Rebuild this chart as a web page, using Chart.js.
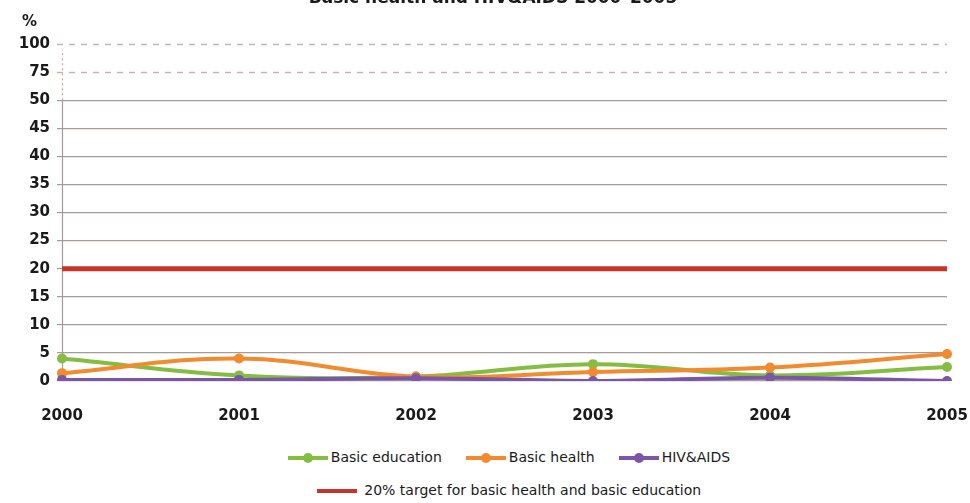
<!DOCTYPE html>
<html>
<head>
<meta charset="utf-8">
<script src="https://cdn.jsdelivr.net/npm/chart.js@4.4.1/dist/chart.umd.min.js"></script>
<style>
  body { margin: 0; background: #fff; font-family: "DejaVu Sans", sans-serif; }
  #wrap { position: relative; width: 970px; height: 503px; overflow: hidden; }
  #chartBox { position: absolute; left: 0; top: 0; width: 970px; height: 420px; }
  #title { position: absolute; top: -13px; left: 0; width: 986px; text-align: center;
           font-weight: bold; font-size: 17px; color: #1a1a1a; }
  #pct { position: absolute; left: 22px; top: 12px; font-weight: bold; font-size: 15px; color: #1a1a1a; }
  #legend { position: absolute; left: 0; top: 440px; width: 970px; box-sizing: border-box;
            padding-left: 48px; text-align: center; font-size: 14px; color: #1a1a1a; }
  .row { height: 33px; line-height: 33px; white-space: nowrap; }
  .item { display: inline-block; margin: 0 12px; vertical-align: middle; }
  .mark { display: inline-block; position: relative; width: 40px; height: 10px; vertical-align: middle; margin-right: 3px; }
  .mark .ln { position: absolute; left: 0; right: 0; top: 3px; height: 4px; }
  .mark .pt { position: absolute; left: 15px; top: 0; width: 10px; height: 10px; border-radius: 50%; }
</style>
</head>
<body>
<div id="wrap">
  <div id="chartBox"><canvas id="devChart"></canvas></div>
  <div id="title">Basic health and HIV&amp;AIDS 2000–2005</div>
  <div id="pct">%</div>
  <div id="legend"></div>
</div>
<script>
const years = ["2000", "2001", "2002", "2003", "2004", "2005"];
// y axis is broken above 50: 0..50 step 5, then 75, 100 at equal spacing
const yLabels = [0, 5, 10, 15, 20, 25, 30, 35, 40, 45, 50, 75, 100];

const basicEducation = [4.0, 1.0, 0.8, 3.0, 1.0, 2.5];
const basicHealth = [1.4, 4.0, 0.8, 1.6, 2.4, 4.8];
const hivAids = [0.2, 0.2, 0.5, 0.0, 0.6, 0.0];
const target = [20, 20, 20, 20, 20, 20];

// value -> position on the evenly spaced broken axis
function toPos(v) {
  if (v <= 50) return v / 5;
  if (v <= 75) return 10 + (v - 50) / 25;
  return 11 + (v - 75) / 25;
}

const gridGrey = "#a59c99";

const brokenAxis = {
  id: "brokenAxis",
  beforeDatasetsDraw(chart) {
    const ctx = chart.ctx;
    const y = chart.scales.y;
    const area = chart.chartArea;
    ctx.save();
    // dashed lines for the compressed part
    ctx.strokeStyle = "#c4b0ad";
    ctx.lineWidth = 1.4;
    ctx.setLineDash([6, 6]);
    [11, 12].forEach((i) => {
      const py = Math.round(y.getPixelForValue(i)) + 0.5;
      ctx.beginPath();
      ctx.moveTo(area.left - 5, py);
      ctx.lineTo(area.right, py);
      ctx.stroke();
    });
    // axis line: solid up to 50, dotted above
    const x = Math.round(area.left) + 0.5;
    ctx.setLineDash([]);
    ctx.strokeStyle = gridGrey;
    ctx.lineWidth = 1.2;
    ctx.beginPath();
    ctx.moveTo(x, y.getPixelForValue(0));
    ctx.lineTo(x, y.getPixelForValue(10));
    ctx.stroke();
    ctx.strokeStyle = "#cf9f9a";
    ctx.setLineDash([2, 3]);
    ctx.beginPath();
    ctx.moveTo(x, y.getPixelForValue(10));
    ctx.lineTo(x, y.getPixelForValue(12) + 6);
    ctx.stroke();
    ctx.restore();
  },
};

const seriesList = [
  { label: "Basic education", values: basicEducation, color: "#84bd41", order: 3 },
  { label: "Basic health", values: basicHealth, color: "#f28b2e", order: 2 },
  { label: "HIV&AIDS", values: hivAids, color: "#7b55a6", order: 1 },
];

const datasets = seriesList.map((s) => ({
  label: s.label,
  data: s.values.map(toPos),
  borderColor: s.color,
  backgroundColor: s.color,
  borderWidth: 4,
  pointRadius: 5,
  pointBorderWidth: 0,
  tension: 0.4,
  order: s.order,
}));

datasets.push({
  label: "20% target for basic health and basic education",
  data: target.map(toPos),
  borderColor: "#c6352b",
  backgroundColor: "#c6352b",
  borderWidth: 5,
  pointRadius: 0,
  order: 4,
});

const chart = new Chart(document.getElementById("devChart"), {
  type: "line",
  data: { labels: years, datasets: datasets },
  options: {
    responsive: true,
    maintainAspectRatio: false,
    animation: false,
    layout: { padding: { top: 44, right: 23, left: 0, bottom: 0 } },
    scales: {
      x: {
        offset: false,
        grid: { display: false },
        border: { display: false },
        ticks: {
          color: "#1a1a1a",
          font: { family: "DejaVu Sans", size: 15, weight: "bold" },
          padding: 18,
          maxRotation: 0,
        },
        afterFit(s) {
          s.height = 39;
          s.paddingLeft = 0;
          s.paddingRight = 0;
        },
      },
      y: {
        min: 0,
        max: 12,
        border: { display: false },
        grid: {
          color: (c) => (c.index >= 11 ? "rgba(0,0,0,0)" : gridGrey),
          lineWidth: 1.2,
          tickLength: 5,
        },
        ticks: {
          stepSize: 1,
          color: "#1a1a1a",
          font: { family: "DejaVu Sans", size: 15, weight: "bold" },
          padding: 7,
          callback: (v) => yLabels[v],
        },
        afterFit(s) {
          s.width = 62;
          s.paddingTop = 0;
          s.paddingBottom = 0;
        },
      },
    },
    plugins: {
      legend: { display: false },
      tooltip: { enabled: false },
    },
  },
  plugins: [brokenAxis],
});

// legend in two rows like the original
const legend = document.getElementById("legend");
const row1 = document.createElement("div");
row1.className = "row";
seriesList.forEach((s) => {
  const item = document.createElement("span");
  item.className = "item";
  item.innerHTML = '<span class="mark"><span class="ln" style="background:' + s.color +
    '"></span><span class="pt" style="background:' + s.color + '"></span></span>';
  item.appendChild(document.createTextNode(s.label));
  row1.appendChild(item);
});
const row2 = document.createElement("div");
row2.className = "row";
const tItem = document.createElement("span");
tItem.className = "item";
tItem.innerHTML = '<span class="mark"><span class="ln" style="background:#c6352b"></span></span> ';
tItem.appendChild(document.createTextNode(datasets[3].label));
row2.appendChild(tItem);
legend.appendChild(row1);
legend.appendChild(row2);
</script>
</body>
</html>
